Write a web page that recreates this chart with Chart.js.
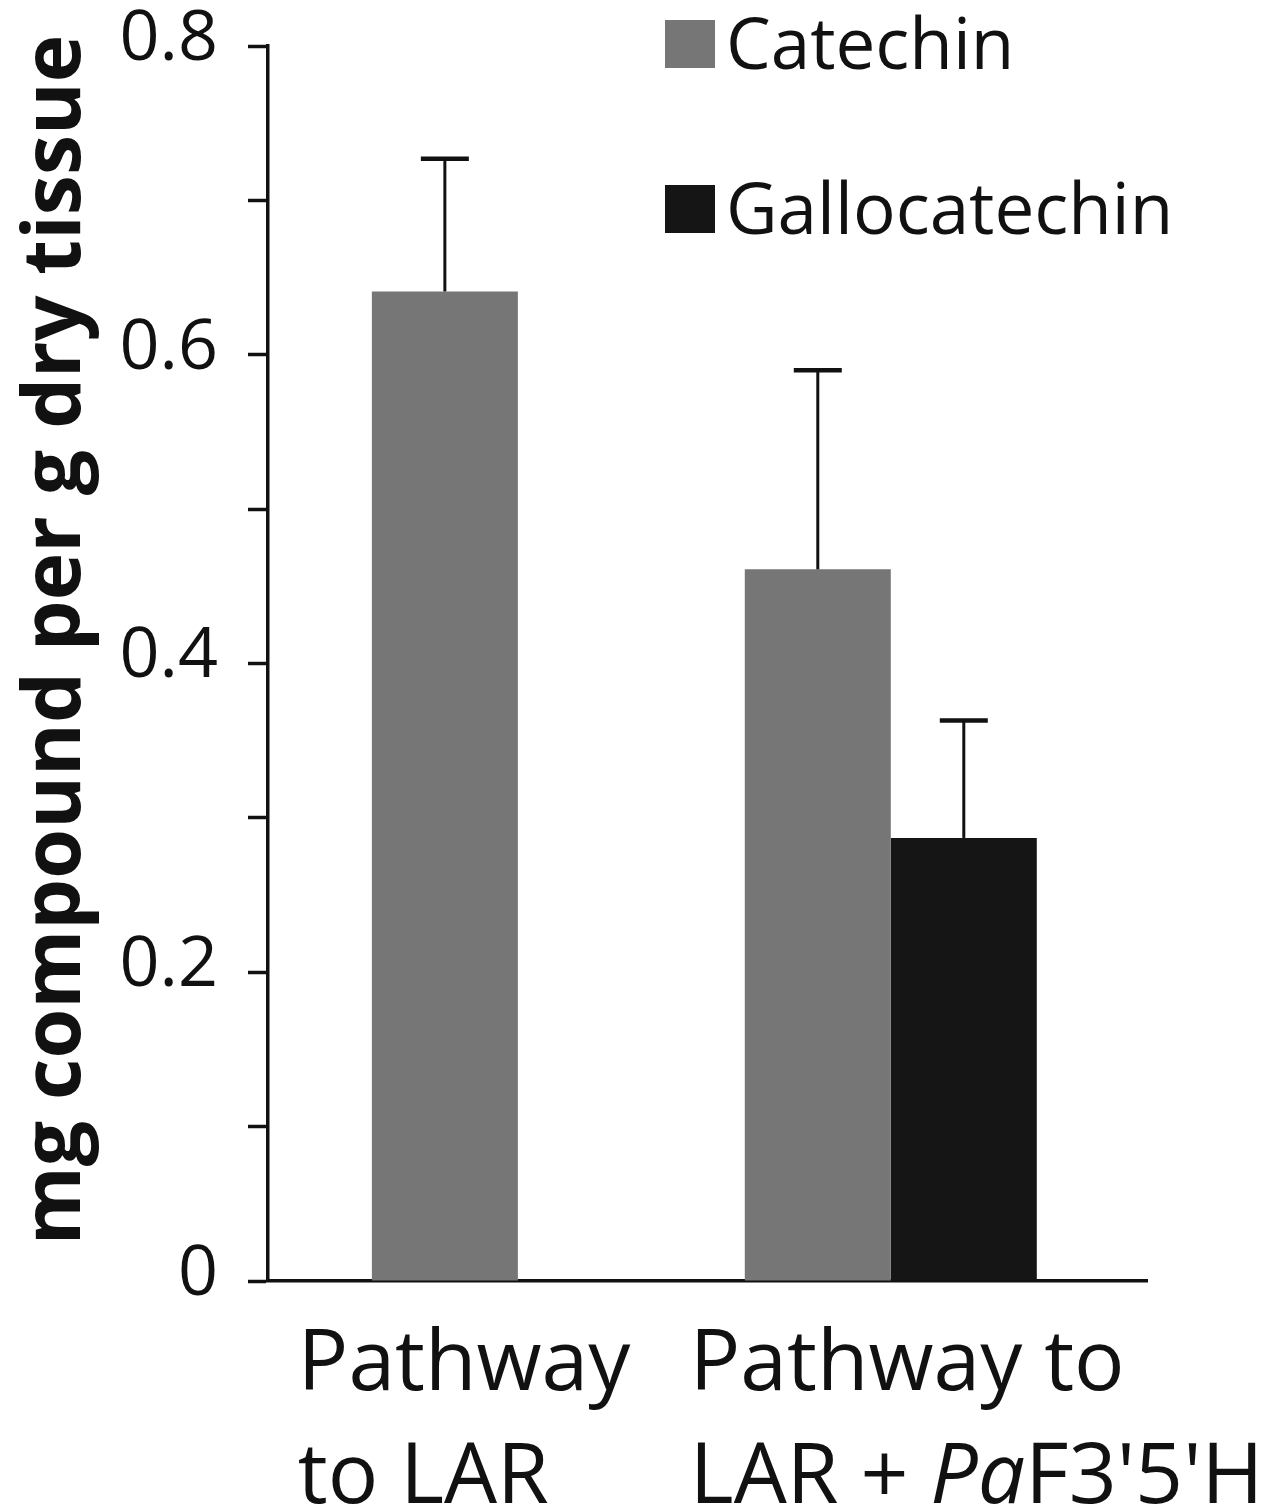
<!DOCTYPE html>
<html>
<head>
<meta charset="utf-8">
<script src="https://cdn.jsdelivr.net/npm/chart.js@4/dist/chart.umd.min.js"></script>
<style>
  html, body { margin: 0; padding: 0; background: #fff; }
  canvas { display: block; }
</style>
</head>
<body>
<canvas id="chart" width="1278" height="1511"></canvas>
<script>
// ─── Data ──────────────────────────────────────────────────────────────────
const categories = [
    ['Pathway', 'to LAR'],
    ['Pathway to', "LAR + |Pa|F3'5'H"]   // |...| = italic part
];
const seriesNames = ['Catechin', 'Gallocatechin'];
const catechin = [0.641, 0.461];
const gallocatechin = [null, 0.287];
const catechinErr = [0.086, 0.129];
const gallocatechinErr = [null, 0.076];
const yTicks = [0, 0.2, 0.4, 0.6, 0.8];
const yTitle = 'mg compound per g dry tissue';

const INK = '#111111';
const FONT = "'Open Sans', 'DejaVu Sans', sans-serif";
const errors = [catechinErr, gallocatechinErr];

// ─── Plugins ───────────────────────────────────────────────────────────────

const errorBars = {
    id: 'errorBars',
    afterDatasetsDraw(chart) {
        const ctx = chart.ctx;
        const y = chart.scales.y;
        ctx.save();
        ctx.strokeStyle = INK;
        chart.data.datasets.forEach((ds, i) => {
            const meta = chart.getDatasetMeta(i);
            meta.data.forEach((bar, j) => {
                const v = ds.data[j].y;
                const e = errors[i][j];
                if (v == null || e == null) return;
                const top = y.getPixelForValue(v + e);
                ctx.lineWidth = 3;
                ctx.beginPath();
                ctx.moveTo(bar.x, bar.y);
                ctx.lineTo(bar.x, top);
                ctx.stroke();
                ctx.lineWidth = 4.5;
                ctx.beginPath();
                ctx.moveTo(bar.x - 24, top);
                ctx.lineTo(bar.x + 24, top);
                ctx.stroke();
            });
        });
        ctx.restore();
    }
};

const sideLegend = {
    id: 'sideLegend',
    afterDraw(chart) {
        const ctx = chart.ctx;
        const rows = [{ y: 20 }, { y: 185 }];
        ctx.save();
        ctx.font = `71px ${FONT}`;
        ctx.textBaseline = 'alphabetic';
        ctx.textAlign = 'left';
        chart.data.datasets.forEach((ds, i) => {
            ctx.fillStyle = ds.backgroundColor;
            ctx.fillRect(665, rows[i].y, 50, 48);
            ctx.fillStyle = INK;
            ctx.fillText(ds.label, 726, rows[i].y + 49);
        });
        ctx.restore();
    }
};

const xLabels = {
    id: 'xLabels',
    afterDraw(chart) {
        const ctx = chart.ctx;
        const x = chart.scales.x;
        const shift = [-220, -201];
        const baselines = [1390, 1503];
        ctx.save();
        ctx.fillStyle = INK;
        ctx.textAlign = 'left';
        ctx.textBaseline = 'alphabetic';
        categories.forEach((lines, i) => {
            const left = x.getPixelForValue(i + 1) + shift[i];
            lines.forEach((line, k) => {
                let cx = left;
                line.split('|').forEach((part, p) => {
                    ctx.font = (p % 2 ? 'italic ' : '') + `84px ${FONT}`;
                    ctx.fillText(part, cx, baselines[k]);
                    cx += ctx.measureText(part).width;
                });
            });
        });
        ctx.restore();
    }
};

// y title sits a little above the plot's middle in the original
const yTitleText = {
    id: 'yTitleText',
    afterDraw(chart) {
        const ctx = chart.ctx;
        ctx.save();
        ctx.translate(80, 640);
        ctx.rotate(-Math.PI / 2);
        ctx.font = `bold 80.5px ${FONT}`;
        ctx.fillStyle = INK;
        ctx.textAlign = 'center';
        ctx.textBaseline = 'alphabetic';
        ctx.fillText(yTitle, 0, 0);
        ctx.restore();
    }
};

// ─── Chart ─────────────────────────────────────────────────────────────────

const ctx = document.getElementById('chart').getContext('2d');
new Chart(ctx, {
    type: 'bar',
    data: {
        datasets: [
            {
                label: seriesNames[0],
                data: catechin.map((v, i) => ({ x: i + 1, y: v })),
                backgroundColor: '#767676'
            },
            {
                label: seriesNames[1],
                data: gallocatechin.map((v, i) => ({ x: i + 1, y: v })),
                backgroundColor: '#151515'
            }
        ]
    },
    options: {
        responsive: false,
        animation: false,
        layout: { padding: { top: 46, right: 131, left: 0, bottom: 0 } },
        datasets: { bar: { categoryPercentage: 0.783, barPercentage: 1.0 } },
        scales: {
            x: {
                type: 'linear',
                min: 0.33,
                max: 2.687,
                offset: false,
                afterBuildTicks: (s) => {
                    s.ticks = categories.map((c, i) => ({ value: i + 1 }));
                },
                ticks: { display: false },
                grid: { display: false },
                border: { display: true, color: INK, width: 3.5 },
                afterFit: (s) => { s.height = 230; }
            },
            y: {
                min: 0,
                max: 0.8,
                afterBuildTicks: (s) => {
                    const t = [];
                    for (let k = 0; k <= 8; k++) t.push({ value: k / 10 });
                    s.ticks = t;
                },
                ticks: {
                    padding: 30,
                    labelOffset: -6,
                    color: INK,
                    font: { family: FONT, size: 70, lineHeight: 0.4 },
                    callback: (v) => {
                        const hit = yTicks.find(t => Math.abs(t - v) < 1e-6);
                        return hit === undefined ? '' : String(hit);
                    }
                },
                grid: {
                    drawOnChartArea: false,
                    drawTicks: true,
                    tickLength: 20,
                    tickWidth: 3.5,
                    tickColor: INK
                },
                border: { display: true, color: INK, width: 3.5 },
                afterFit: (s) => { s.width = 268; }
            }
        },
        plugins: {
            legend: { display: false },
            tooltip: { enabled: false }
        }
    },
    plugins: [errorBars, sideLegend, xLabels, yTitleText]
});
</script>
</body>
</html>
